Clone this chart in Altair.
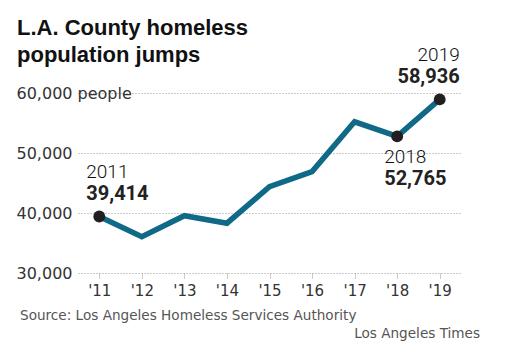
import altair as alt
import pandas as pd

years = [2011, 2012, 2013, 2014, 2015, 2016, 2017, 2018, 2019]
year_labels = ["'11", "'12", "'13", "'14", "'15", "'16", "'17", "'18", "'19"]
population = [39414, 36050, 39550, 38300, 44400, 46900, 55200, 52765, 58936]

highlight_years = ["'11", "'18", "'19"]
highlight_values = [39414, 52765, 58936]
highlight_year_text = ["2011", "2018", "2019"]
highlight_value_text = ["39,414", "52,765", "58,936"]

title_lines = ["L.A. County homeless", "population jumps"]
source_text = "Source: Los Angeles Homeless Services Authority"
credit_text = "Los Angeles Times"

df = pd.DataFrame({"yr": year_labels, "pop": population})
hl = pd.DataFrame({"yr": highlight_years, "pop": highlight_values,
                   "ytxt": highlight_year_text, "vtxt": highlight_value_text})
one = pd.DataFrame({"k": [0]})

FONT = "DejaVu Sans"
ANN_FONT = "Roboto"
LINE_COLOR = "#0f6987"

x = alt.X("yr:N", sort=year_labels, scale=alt.Scale(type="point", padding=0.5),
          axis=alt.Axis(title=None, labelAngle=0, domain=False, grid=False,
                        ticks=True, tickSize=5, tickColor="#999", tickDash=[1, 1],
                        labelFont=FONT, labelFontSize=15, labelColor="#333",
                        labelPadding=5))
y = alt.Y("pop:Q", scale=alt.Scale(domain=[30000, 60000], nice=False, zero=False),
          axis=alt.Axis(title=None, values=[30000, 40000, 50000, 60000],
                        labelExpr="datum.value == 60000 ? '60,000 people' : format(datum.value, ',')",
                        domain=False, ticks=False, grid=True, gridColor="#999",
                        gridDash=[1, 2], gridWidth=1,
                        labelAlign="left", labelPadding=62,
                        labelFont=FONT, labelFontSize=16, labelColor="#333"))

line = alt.Chart(df).mark_line(color=LINE_COLOR, strokeWidth=5.5).encode(x=x, y=y)
pts = alt.Chart(hl).mark_circle(color="#231f20", opacity=1, size=140).encode(x=x, y=y)


def ann(year, field, align, dx, dy, weight, size, color):
    return alt.Chart(hl[hl.ytxt == year]).mark_text(
        align=align, baseline="alphabetic", font=ANN_FONT, fontSize=size,
        fontWeight=weight, color=color, dx=dx, dy=dy
    ).encode(x=x, y=y, text=f"{field}:N")


anns = [
    ann("2011", "ytxt", "left", -13, -39, 300, 19, "#111"),
    ann("2011", "vtxt", "left", -13, -17, "bold", 20, "#222"),
    ann("2018", "ytxt", "left", -13, 27, 300, 19, "#111"),
    ann("2018", "vtxt", "left", -13, 49, "bold", 20, "#222"),
    ann("2019", "ytxt", "right", 20, -38, 300, 19, "#111"),
    ann("2019", "vtxt", "right", 20, -16, "bold", 20, "#222"),
]

title1 = alt.Chart(one).mark_text(
    align="left", baseline="alphabetic", font="Liberation Sans", fontSize=22,
    fontWeight="bold", color="#111"
).encode(x=alt.value(-61), y=alt.value(-58), text=alt.value(title_lines[0]))
title2 = alt.Chart(one).mark_text(
    align="left", baseline="alphabetic", font="Liberation Sans", fontSize=22,
    fontWeight="bold", color="#111"
).encode(x=alt.value(-61), y=alt.value(-31), text=alt.value(title_lines[1]))

source = alt.Chart(one).mark_text(
    align="left", baseline="alphabetic", font=FONT, fontSize=13.6, color="#555"
).encode(x=alt.value(-58), y=alt.value(227), text=alt.value(source_text))
credit = alt.Chart(one).mark_text(
    align="right", baseline="alphabetic", font=FONT, fontSize=13.6, color="#555"
).encode(x=alt.value(402), y=alt.value(245), text=alt.value(credit_text))

chart = alt.layer(line, pts, *anns, title1, title2, source, credit).properties(
    width=383, height=180,
    autosize=alt.AutoSizeParams(type="none"),
    padding={"left": 70, "top": 85, "right": 41, "bottom": 75},
).configure_view(stroke=None)

chart.save("out.html", embed_options={"renderer": "svg", "actions": False})
